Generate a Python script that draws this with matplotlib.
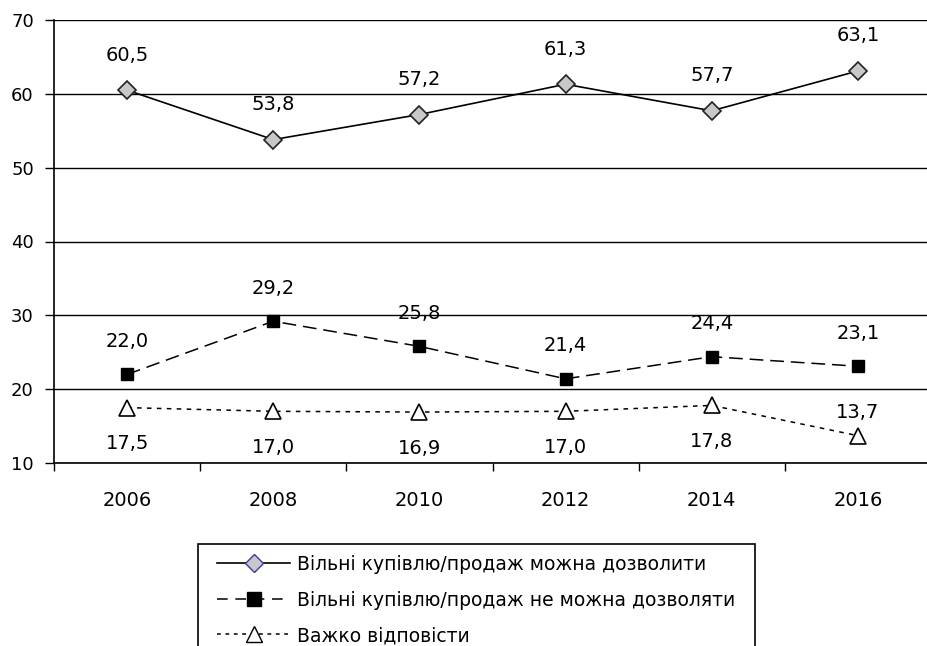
import matplotlib.pyplot as plt
from matplotlib.lines import Line2D
from matplotlib.patches import Rectangle

plt.rcParams['font.family'] = ['DejaVu Sans']

years = ['2006', '2008', '2010', '2012', '2014', '2016']
can_allow = [60.5, 53.8, 57.2, 61.3, 57.7, 63.1]
cannot_allow = [22.0, 29.2, 25.8, 21.4, 24.4, 23.1]
hard_to_say = [17.5, 17.0, 16.9, 17.0, 17.8, 13.7]

labels = ['Вільні купівлю/продаж можна дозволити',
          'Вільні купівлю/продаж не можна дозволяти',
          'Важко відповісти']

fig = plt.figure(figsize=(9.27, 6.46), dpi=100)
ax = fig.add_axes([54 / 927, 183 / 646, 877 / 927, 443 / 646])

x = list(range(len(years)))

ax.plot(x, can_allow, color='black', lw=1.2, marker='D', markersize=9,
        markerfacecolor='#c8c8c8', markeredgecolor='#222222', markeredgewidth=1.2)
ax.plot(x, cannot_allow, color='black', lw=1.1, dashes=(9, 4.5), marker='s',
        markersize=8.5, markerfacecolor='black', markeredgecolor='black')
ax.plot(x, hard_to_say, color='black', lw=1.1, dashes=(3, 3.5), marker='^',
        markersize=11.5, markerfacecolor='white', markeredgecolor='black',
        markeredgewidth=1.2)

fs = 14


def fmt(v):
    return f'{v:.1f}'.replace('.', ',')


for i, v in enumerate(can_allow):
    ax.annotate(fmt(v), (i, v), xytext=(0, 35), textcoords='offset pixels',
                ha='center', va='center', fontsize=fs)
for i, v in enumerate(cannot_allow):
    ax.annotate(fmt(v), (i, v), xytext=(0, 33), textcoords='offset pixels',
                ha='center', va='center', fontsize=fs)
for i, v in enumerate(hard_to_say):
    off = 23 if i == len(hard_to_say) - 1 else -36
    ax.annotate(fmt(v), (i, v), xytext=(0, off), textcoords='offset pixels',
                ha='center', va='center', fontsize=fs)

ax.set_xlim(-0.5, len(years) - 0.5)
ax.set_ylim(10, 70)
ax.set_yticks(range(10, 71, 10))
ax.yaxis.grid(True, color='black', lw=1)
ax.set_axisbelow(True)

ax.set_xticks([i - 0.5 for i in range(len(years) + 1)])
ax.set_xticklabels([])
ax.set_xticks(x, minor=True)
ax.set_xticklabels(years, minor=True)
ax.tick_params(axis='x', which='major', length=6, width=1, direction='out')
ax.tick_params(axis='x', which='minor', length=0, pad=20, labelsize=fs)
ax.tick_params(axis='y', length=6.5, width=1, pad=8, labelsize=13)

for s in ['top', 'right']:
    ax.spines[s].set_visible(False)
ax.spines['left'].set_linewidth(1.2)
ax.spines['bottom'].set_linewidth(1.2)

# legend
handles = [
    Line2D([], [], color='black', lw=1.2, marker='D', markersize=9,
           markerfacecolor='#c8c8c8', markeredgecolor='#3a3aa0'),
    Line2D([], [], color='black', lw=1.1, dashes=(7, 5), marker='s',
           markersize=10, markerfacecolor='black', markeredgecolor='black'),
    Line2D([], [], color='black', lw=1.1, dashes=(2.5, 3), marker='^',
           markersize=11, markerfacecolor='white', markeredgecolor='black'),
]
fig.legend(handles, labels, loc='upper left',
           bbox_to_anchor=(217 / 927, 1 - 555 / 646),
           fontsize=13.5, handlelength=3.9, frameon=False, borderpad=0,
           borderaxespad=0, labelspacing=0.88, handletextpad=0.37)
fig.add_artist(Rectangle((198 / 927, -0.1), 557 / 927, 0.1 + 102 / 646,
                         transform=fig.transFigure, fill=False,
                         edgecolor='black', lw=1.2))

fig.savefig('out.png', dpi=100)
